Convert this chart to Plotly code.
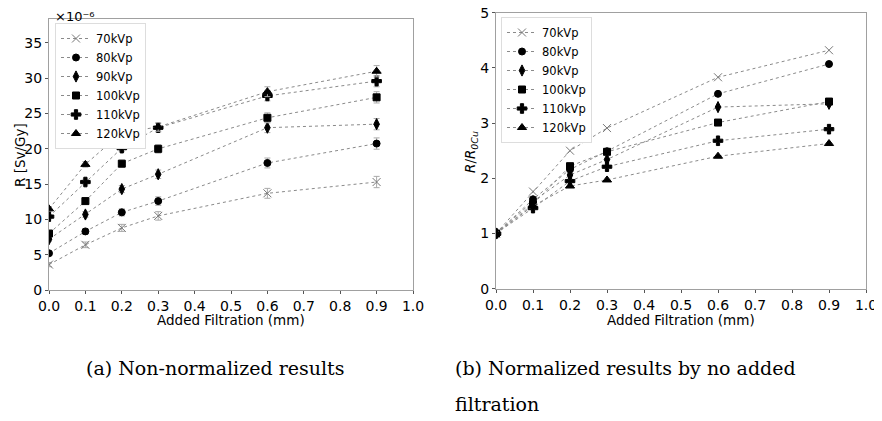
import plotly.graph_objects as go

filtration = [0.0, 0.1, 0.2, 0.3, 0.6, 0.9]
labels = ["70kVp", "80kVp", "90kVp", "100kVp", "110kVp", "120kVp"]

# R [Sv/Gy] in units of 1e-6
r_70 = [3.6, 6.4, 8.8, 10.5, 13.7, 15.3]
r_80 = [5.2, 8.3, 11.0, 12.6, 18.0, 20.75]
r_90 = [7.2, 10.7, 14.3, 16.4, 23.0, 23.5]
r_100 = [8.0, 12.6, 17.9, 20.0, 24.4, 27.3]
r_110 = [10.4, 15.3, 20.1, 23.0, 27.5, 29.6]
r_120 = [11.5, 17.8, 22.3, 23.1, 28.1, 31.0]
r_err = [0.3, 0.4, 0.5, 0.6, 0.7, 0.8]

# Normalized R / R_0Cu
n_70 = [1.0, 1.76, 2.50, 2.91, 3.83, 4.32]
n_80 = [1.0, 1.62, 2.16, 2.49, 3.53, 4.07]
n_90 = [1.0, 1.58, 2.06, 2.34, 3.29, 3.35]
n_100 = [1.0, 1.53, 2.22, 2.48, 3.01, 3.39]
n_110 = [1.0, 1.46, 1.95, 2.21, 2.68, 2.89]
n_120 = [1.0, 1.50, 1.86, 1.97, 2.40, 2.63]

x_ticks = [0.0, 0.1, 0.2, 0.3, 0.4, 0.5, 0.6, 0.7, 0.8, 0.9, 1.0]
left_y_ticks = [0, 5, 10, 15, 20, 25, 30, 35]
right_y_ticks = [0, 1, 2, 3, 4, 5]

raw = [r_70, r_80, r_90, r_100, r_110, r_120]
norm = [n_70, n_80, n_90, n_100, n_110, n_120]

symbols = ["x-thin", "circle", "diamond-tall", "square", "cross", "triangle-up"]
msizes = [8, 7, 8, 7, 8, 8]
mcolors = ["#777777", "black", "black", "black", "black", "black"]
line_color = "#8a8a8a"

fig = go.Figure()

for i, lab in enumerate(labels):
    mk = dict(symbol=symbols[i], size=msizes[i], color=mcolors[i],
              line=dict(width=1, color=mcolors[i]))
    fig.add_trace(go.Scatter(
        x=filtration, y=raw[i], name=lab, mode="lines+markers",
        line=dict(color=line_color, width=1, dash="dot"), marker=mk,
        error_y=dict(type="data", array=r_err, color="#aaaaaa", thickness=1, width=3),
        xaxis="x", yaxis="y", legend="legend"))

for i, lab in enumerate(labels):
    mk = dict(symbol=symbols[i], size=msizes[i], color=mcolors[i],
              line=dict(width=1, color=mcolors[i]))
    fig.add_trace(go.Scatter(
        x=filtration, y=norm[i], name=lab, mode="lines+markers",
        line=dict(color=line_color, width=1, dash="dot"), marker=mk,
        xaxis="x2", yaxis="y2", legend="legend2"))

# The page body has an 8px margin: the figure starts 8px in from the window's
# top-left corner and all window-pixel positions are shifted by that margin.
PAGE_W, PAGE_H, BODY_M = 882, 421, 8
W, H = PAGE_W - BODY_M, PAGE_H - BODY_M

def px_x(p):
    return (p - BODY_M) / W

def px_y(p):
    return (PAGE_H - p) / H

axis_common = dict(
    showline=True, mirror=True, linecolor="#a0a0a0", linewidth=1,
    ticks="outside", ticklen=3, tickcolor="#555555", showgrid=False, zeroline=False,
    automargin=False,
    tickfont=dict(family="DejaVu Sans", size=14, color="black"),
)

tick_text_x = ["%.1f" % v for v in x_ticks]

legend_common = dict(xanchor="left", yanchor="top",
                     bgcolor="white", bordercolor="#dddddd", borderwidth=1,
                     font=dict(family="DejaVu Sans", size=11.5, color="black"),
                     itemwidth=30, tracegroupgap=0)

fig.update_layout(
    width=W, height=H,
    margin=dict(l=0, r=0, t=0, b=0, autoexpand=False),
    paper_bgcolor="white", plot_bgcolor="white",
    xaxis=dict(domain=[px_x(49), px_x(413)], range=[0, 1.0], tickvals=x_ticks,
               ticktext=tick_text_x, anchor="y", ticklabeloverflow="allow", **axis_common),
    yaxis=dict(domain=[px_y(290), px_y(19)], range=[0, 38.4], tickvals=left_y_ticks,
               anchor="x", **axis_common),
    xaxis2=dict(domain=[px_x(496), px_x(866)], range=[0, 1.0], tickvals=x_ticks,
                ticktext=tick_text_x, anchor="y2", ticklabeloverflow="allow", **axis_common),
    yaxis2=dict(domain=[px_y(288.7), px_y(12.7)], range=[0, 5], tickvals=right_y_ticks,
                anchor="x2", ticklabeloverflow="allow", **axis_common),
    legend=dict(x=px_x(55), y=px_y(23), **legend_common),
    legend2=dict(x=px_x(501), y=px_y(17), **legend_common),
    showlegend=True,
)

annots = [
    dict(text="Added Filtration (mm)", x=px_x(231), y=px_y(319.5), size=13.5),
    dict(text="Added Filtration (mm)", x=px_x(681), y=px_y(319.5), size=13.5),
    dict(text="R [Sv/Gy]", x=px_x(20), y=px_y(155), textangle=-90, size=13.5),
    dict(text="<i>R</i>/<i>R</i><sub><i>0Cu</i></sub>", x=px_x(471), y=px_y(152),
         textangle=-90, size=13.5),
    dict(text="×10⁻⁶", x=px_x(75), y=px_y(16.5), size=13),
]
for a in annots:
    sz = a.pop("size")
    fig.add_annotation(xref="paper", yref="paper", showarrow=False,
                       xanchor="center", yanchor="middle",
                       font=dict(family="DejaVu Sans", size=sz, color="black"), **a)

caps = [
    dict(text="(a) Non-normalized results", x=px_x(84), y=px_y(368)),
    dict(text="(b) Normalized results by no added", x=px_x(453), y=px_y(368)),
    dict(text="filtration", x=px_x(453), y=px_y(404)),
]
for c in caps:
    fig.add_annotation(xref="paper", yref="paper", showarrow=False,
                       xanchor="left", yanchor="middle",
                       font=dict(family="DejaVu Serif", size=19, color="black"), **c)

fig.write_html("out.html")
